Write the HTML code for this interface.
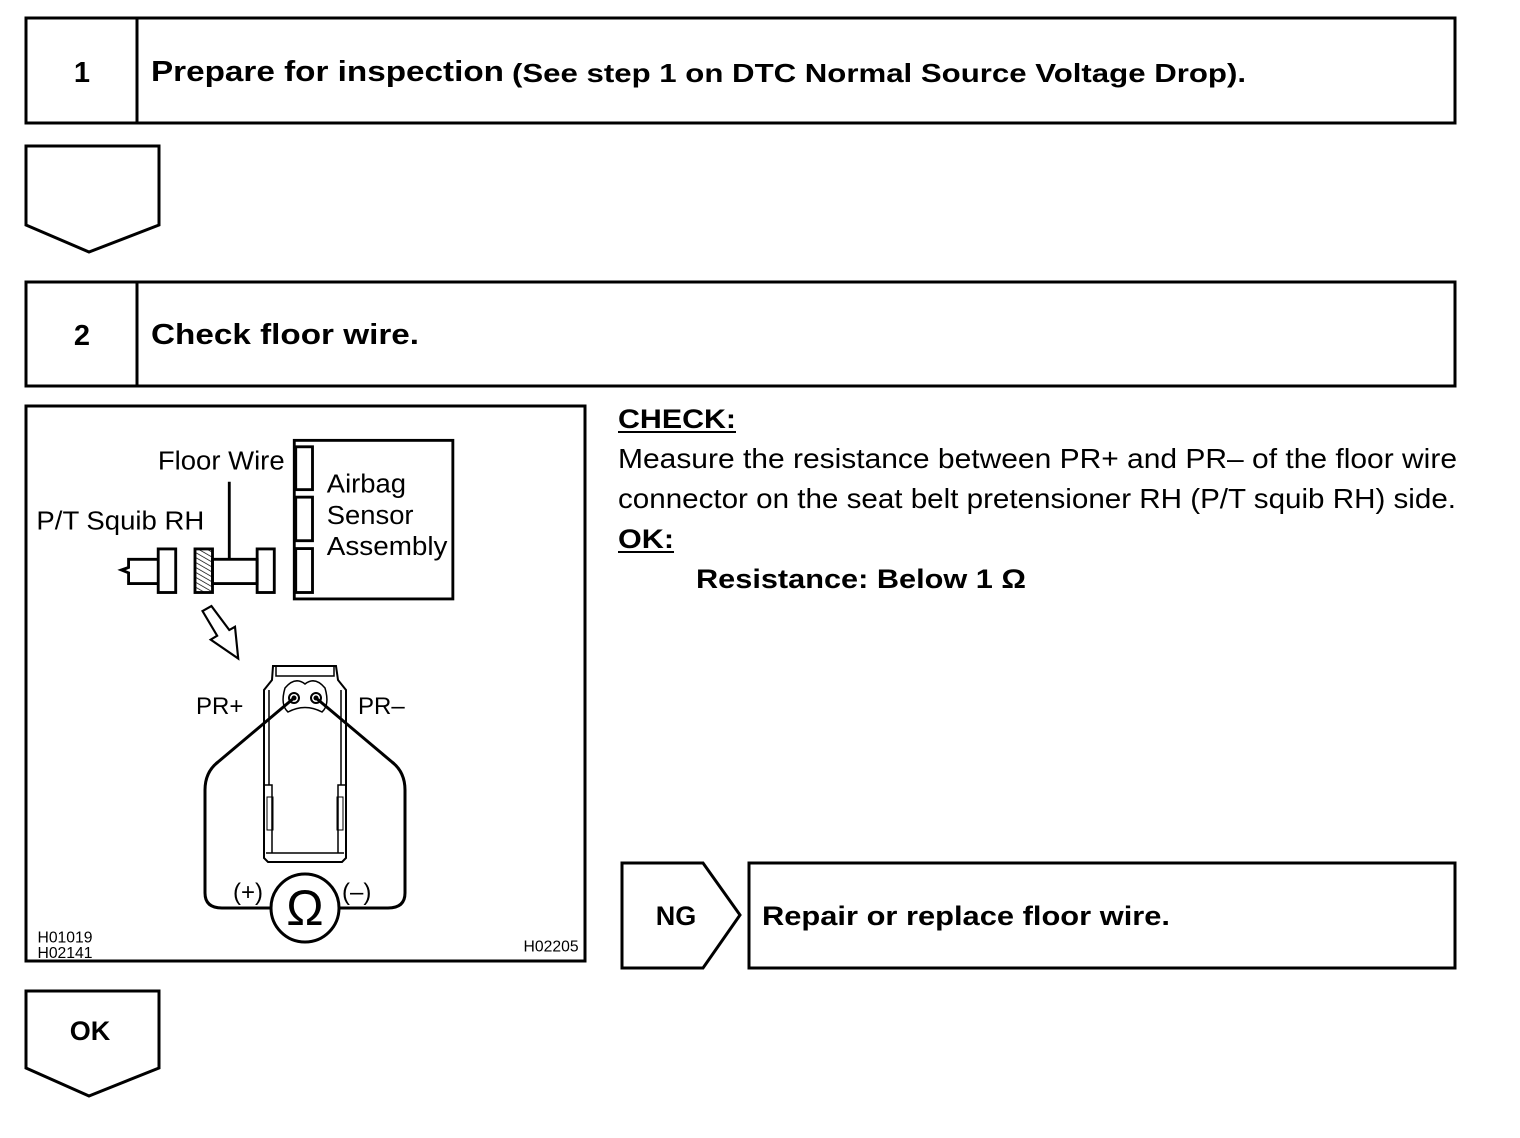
<!DOCTYPE html>
<html><head><meta charset="utf-8"><style>
html,body{margin:0;padding:0;background:#fff;}
svg{display:block;}
text{font-family:"Liberation Sans",Arial,sans-serif;fill:#000;}
</style></head><body>
<svg width="1520" height="1138" viewBox="0 0 1520 1138" xmlns="http://www.w3.org/2000/svg">
<defs>
<pattern id="hatch" width="12" height="12" patternUnits="userSpaceOnUse" patternTransform="rotate(-60)">
<line x1="0" y1="0" x2="0" y2="12" stroke="#000" stroke-width="4"/>
</pattern>
</defs>
<g fill="none" stroke="#000" stroke-width="3">
<rect x="26" y="18" width="1429" height="105"/>
<line x1="137" y1="18" x2="137" y2="123"/>
<rect x="26" y="282" width="1429" height="104"/>
<line x1="137" y1="282" x2="137" y2="386"/>
<path d="M26 146 H159 V225 L89 252 L26 225 Z"/>
<path d="M26 991 H159 V1068 L89 1096 L26 1068 Z"/>
<path d="M622 863 H703 L740 915 L703 968 H622 Z"/>
<rect x="749" y="863" width="706" height="105"/>
<rect x="26" y="406" width="559" height="555"/>
</g>
<text x="82" y="82" font-size="29" font-weight="bold" text-anchor="middle">1</text>
<text x="151" y="81" font-size="29" font-weight="bold" textLength="353" lengthAdjust="spacingAndGlyphs">Prepare for inspection</text>
<text x="512" y="82" font-size="26" font-weight="bold" textLength="734" lengthAdjust="spacingAndGlyphs">(See step 1 on DTC Normal Source Voltage Drop).</text>
<text x="82" y="345" font-size="29" font-weight="bold" text-anchor="middle">2</text>
<text x="151" y="344" font-size="29" font-weight="bold" textLength="268" lengthAdjust="spacingAndGlyphs">Check floor wire.</text>

<text x="618" y="428" font-size="27" font-weight="bold" textLength="118" lengthAdjust="spacingAndGlyphs">CHECK:</text>
<line x1="618" y1="432" x2="736" y2="432" stroke="#000" stroke-width="2"/>
<text x="618" y="468" font-size="28" textLength="839" lengthAdjust="spacingAndGlyphs">Measure the resistance between PR+ and PR– of the floor wire</text>
<text x="618" y="508" font-size="28" textLength="838" lengthAdjust="spacingAndGlyphs">connector on the seat belt pretensioner RH (P/T squib RH) side.</text>
<text x="618" y="548" font-size="27" font-weight="bold" textLength="56" lengthAdjust="spacingAndGlyphs">OK:</text>
<line x1="618" y1="552" x2="674" y2="552" stroke="#000" stroke-width="2"/>
<text x="696" y="588" font-size="27" font-weight="bold" textLength="330" lengthAdjust="spacingAndGlyphs">Resistance: Below 1 Ω</text>

<text x="676" y="925" font-size="27" font-weight="bold" text-anchor="middle">NG</text>
<text x="762" y="925" font-size="27" font-weight="bold" textLength="408" lengthAdjust="spacingAndGlyphs">Repair or replace floor wire.</text>
<text x="90" y="1040" font-size="27" font-weight="bold" text-anchor="middle">OK</text>

<!-- upper diagram in zoom coords -->
<g transform="translate(25,405) scale(0.35714)">
<g fill="none" stroke="#000" stroke-width="8">
<rect x="754" y="99" width="444" height="444"/>
<rect x="758" y="117" width="47" height="120"/>
<rect x="758" y="258" width="47" height="122"/>
<rect x="758" y="402" width="47" height="123"/>
<line x1="572" y1="215" x2="572" y2="432"/>
<rect x="525" y="432" width="125" height="68"/>
<rect x="650" y="403" width="48" height="122"/>
<rect x="476" y="403" width="49" height="122" fill="url(#hatch)"/>
<rect x="373" y="403" width="49" height="122"/>
<path d="M373 432 H290 V455 L270 462 L290 470 V500 H373"/>
<path d="M497 577 L522 563 L572 630 L588 621 L597 710 L520 657 L538 646 Z" stroke-width="6"/>
</g>
<g font-size="72">
<text x="372" y="180" textLength="355" lengthAdjust="spacingAndGlyphs">Floor Wire</text>
<text x="32" y="348" textLength="470" lengthAdjust="spacingAndGlyphs">P/T Squib RH</text>
<text x="845" y="245" textLength="222" lengthAdjust="spacingAndGlyphs">Airbag</text>
<text x="845" y="333" textLength="243" lengthAdjust="spacingAndGlyphs">Sensor</text>
<text x="845" y="420" textLength="338" lengthAdjust="spacingAndGlyphs">Assembly</text>
</g>
<g font-size="44">
<text x="35" y="1505">H01019</text>
<text x="35" y="1548">H02141</text>
<text x="1550" y="1530" text-anchor="end">H02205</text>
</g>
</g>

<!-- connector + meter in page coords -->
<g fill="none" stroke="#000">
<path d="M273 666 H336 L338 680 L346 690 V858 L342 862 H268 L264 858 V690 L272 680 Z" stroke-width="2"/>
<path d="M276 666 V676 H334 V666" stroke-width="1.5"/>
<path d="M269 690 V785 M341 690 V785 M264 785 H272 V853 M346 785 H338 V853 M266 853 H344" stroke-width="1.5"/>
<rect x="267" y="797" width="6" height="33" stroke-width="1"/>
<rect x="337" y="797" width="6" height="33" stroke-width="1"/>
<path d="M285 688 Q295 676 305 684 Q315 676 325 688 Q330 705 322 712 Q305 703 288 712 Q280 705 285 688 Z" stroke-width="1.5"/>
<circle cx="294" cy="698" r="5" stroke-width="2"/>
<circle cx="316" cy="698" r="5" stroke-width="2"/>
<path d="M294 698 L218 762 Q205 772 205 790 V893 Q205 908 222 908 H272" stroke-width="3"/>
<path d="M316 698 L392 762 Q405 772 405 790 V893 Q405 908 388 908 H338" stroke-width="3"/>
<circle cx="305" cy="908" r="34" stroke-width="3"/>
</g>
<circle cx="294" cy="698" r="2.5" fill="#000"/>
<circle cx="316" cy="698" r="2.5" fill="#000"/>
<text x="305" y="925" font-size="50" text-anchor="middle">Ω</text>
<text x="196" y="714" font-size="24">PR+</text>
<text x="358" y="714" font-size="24">PR–</text>
<text x="233" y="900" font-size="24">(+)</text>
<text x="342" y="900" font-size="24">(–)</text>
</svg>
</body></html>
